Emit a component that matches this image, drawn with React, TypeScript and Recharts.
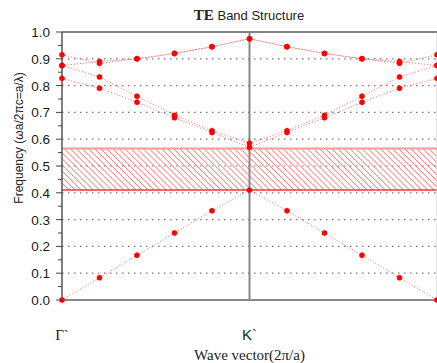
import {
  LineChart,
  Line,
  XAxis,
  YAxis,
  ReferenceLine,
  ReferenceArea,
  Label,
} from "recharts";

// k-point index along Γ' -> K' -> Γ'
const kPoints = [0, 1, 2, 3, 4, 5, 6, 7, 8, 9, 10];
const kTicks = [0, 5];
const kLabels: Record<number, string> = { 0: "Γ`", 5: "K`" };

// TE bands (normalized frequency ωa/2πc)
const band1 = [0, 0.083, 0.167, 0.25, 0.333, 0.41, 0.333, 0.25, 0.167, 0.083, 0];
const band2 = [0.827, 0.79, 0.738, 0.68, 0.625, 0.57, 0.625, 0.68, 0.738, 0.79, 0.827];
const band3 = [0.875, 0.832, 0.76, 0.69, 0.632, 0.585, 0.632, 0.69, 0.76, 0.832, 0.875];
const band4 = [0.875, 0.89, 0.9, 0.92, 0.945, 0.975, 0.945, 0.92, 0.9, 0.89, 0.875];
const band5 = [0.915, 0.883, 0.9, 0.92, 0.945, 0.975, 0.945, 0.92, 0.9, 0.883, 0.915];

const gapLow = 0.41;
const gapHigh = 0.565;

const yTicks = [
  0, 0.05, 0.1, 0.15, 0.2, 0.25, 0.3, 0.35, 0.4, 0.45, 0.5, 0.55, 0.6, 0.65,
  0.7, 0.75, 0.8, 0.85, 0.9, 0.95, 1.0,
];
const gridLines = [0.1, 0.2, 0.3, 0.4, 0.5, 0.6, 0.7, 0.8, 0.9];

const bands = [band1, band2, band3, band4, band5];

const data = kPoints.map((k, i) => {
  const row: Record<string, number> = { k };
  bands.forEach((b, j) => {
    row["b" + (j + 1)] = b[i];
  });
  return row;
});

const SANS = "'Liberation Sans', Arial, sans-serif";
const SERIF = "'Liberation Serif', 'Times New Roman', serif";

function YTick(props: any) {
  const { x, y, payload } = props;
  const v = payload.value;
  const major = Math.abs(v * 10 - Math.round(v * 10)) < 1e-6;
  return (
    <g>
      <line x1={x - (major ? 6 : 4)} x2={x} y1={y} y2={y} stroke="#444" />
      {major && (
        <text
          x={x - 12}
          y={y + 5}
          textAnchor="end"
          fontFamily={SANS}
          fontSize={13.5}
          fill="#1a1a1a"
        >
          {v.toFixed(1)}
        </text>
      )}
    </g>
  );
}

function XTick(props: any) {
  const { x, y, payload } = props;
  const isGamma = payload.value === 0;
  return (
    <text
      x={x}
      y={y + 40}
      textAnchor="middle"
      fontFamily={isGamma ? SERIF : SANS}
      fontSize={15}
      fill="#222"
    >
      {kLabels[payload.value]}
    </text>
  );
}

function YLabel() {
  return (
    <text
      x={20}
      y={138}
      transform="rotate(-90, 20, 138)"
      textAnchor="middle"
      dominantBaseline="middle"
      fontFamily={SANS}
      fontSize={12}
      fill="#222"
    >
      Frequency (ωa/2πc=a/λ)
    </text>
  );
}

export default function App() {
  return (
    <div style={{ position: "relative", width: 437, height: 363 }}>
      <style>{"body{margin:0}"}</style>
      <svg width={0} height={0} style={{ position: "absolute" }}>
        <defs>
          <pattern
            id="gapHatch"
            patternUnits="userSpaceOnUse"
            width={4.3}
            height={4.3}
            patternTransform="rotate(-45)"
          >
            <line x1={0} y1={0} x2={0} y2={4.3} stroke="#f44" strokeWidth={1.4} />
          </pattern>
        </defs>
      </svg>
      <div
        style={{
          position: "absolute",
          top: 6,
          left: 149,
          width: 200,
          textAlign: "center",
          color: "#222",
          whiteSpace: "nowrap",
        }}
      >
        <span style={{ fontFamily: SERIF, fontWeight: "bold", fontSize: 15 }}>TE</span>
        <span style={{ fontFamily: SANS, fontSize: 13 }}> Band Structure</span>
      </div>
      <LineChart
        width={437}
        height={363}
        data={data}
        margin={{ top: 32, right: 0, bottom: 0, left: 0 }}
      >
        <XAxis
          dataKey="k"
          type="number"
          domain={[0, 10]}
          ticks={kTicks}
          tick={<XTick />}
          tickLine={false}
          tickSize={0}
          tickMargin={0}
          height={63}
          axisLine={{ stroke: "#888", strokeWidth: 2 }}
        >
          <Label
            value="Wave vector(2π/a)"
            position="insideBottom"
            offset={3}
            style={{ fontFamily: SERIF, fontSize: 15, fill: "#222" }}
          />
        </XAxis>
        <YAxis
          type="number"
          domain={[0, 1]}
          ticks={yTicks}
          interval={0}
          tick={<YTick />}
          tickLine={false}
          tickSize={0}
          tickMargin={0}
          width={62}
          axisLine={{ stroke: "#555", strokeWidth: 1.5 }}
        >
          <Label content={<YLabel />} />
        </YAxis>

        <ReferenceArea
          y1={gapLow}
          y2={gapHigh}
          fill="url(#gapHatch)"
          fillOpacity={0.85}
          stroke="none"
        />
        {gridLines.map((g) => (
          <ReferenceLine
            key={g}
            y={g}
            stroke="#777"
            strokeWidth={1.2}
            strokeDasharray="1.5 4.5"
          />
        ))}
        <ReferenceLine y={gapHigh} stroke="#f99" strokeWidth={2} />
        <ReferenceLine y={gapLow} stroke="#f33" strokeWidth={1.5} />
        <ReferenceLine y={1} stroke="#555" strokeWidth={1.5} />
        <ReferenceLine x={10} stroke="#ccc" />
        <ReferenceLine x={5} stroke="#888" strokeWidth={2} />

        {bands.map((_, j) => (
          <Line
            key={j}
            dataKey={"b" + (j + 1)}
            type="linear"
            stroke="#f66"
            strokeWidth={1}
            strokeDasharray="1 2"
            dot={{ r: 2.7, fill: "#f00", stroke: "#f00", strokeWidth: 0.5 }}
            isAnimationActive={false}
          />
        ))}
      </LineChart>
    </div>
  );
}
